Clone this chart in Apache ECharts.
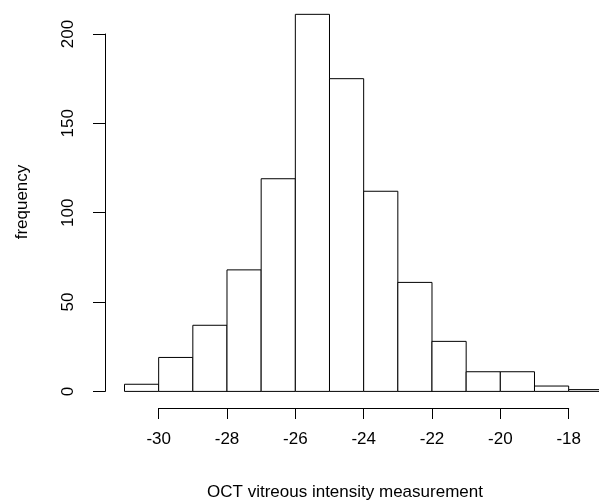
<!DOCTYPE html>
<html>
<head>
<meta charset="utf-8">
<script src="https://cdn.jsdelivr.net/npm/echarts@6/dist/echarts.min.js"></script>
<style>
    html, body { margin: 0; padding: 0; background: #fff; }
    #chart { width: 599px; height: 504px; }
</style>
</head>
<body>
<div id="chart"></div>
<script>
// histogram bins (left edge, width 1) and their counts
var binStarts = [-31, -30, -29, -28, -27, -26, -25, -24, -23, -22, -21, -20, -19, -18];
var binWidth = 1;
var counts = [4, 19, 37, 68, 119, 211, 175, 112, 61, 28, 11, 11, 3, 1];

var xTitle = 'OCT vitreous intensity measurement';
var yTitle = 'frequency';

var font = 'Liberation Sans, Arial, sans-serif';

function histBars(params, api) {
    var topLeft = api.coord([api.value(0), api.value(1)]);
    var bottomRight = api.coord([api.value(2), 0]);
    return {
        type: 'rect',
        shape: {
            x: topLeft[0],
            y: topLeft[1],
            width: bottomRight[0] - topLeft[0],
            height: bottomRight[1] - topLeft[1]
        },
        style: { fill: '#fff', stroke: '#000', lineWidth: 1 }
    };
}

var barData = counts.map(function (c, i) {
    return [binStarts[i], c, binStarts[i] + binWidth];
});

var option = {
    backgroundColor: '#fff',
    animation: false,
    grid: [
        // data area
        { left: 124.5, width: 474.5, top: 34, height: 357.4, containLabel: false, outerBoundsMode: 'none' },
        // x axis (R style, detached below)
        { left: 158.7, width: 410, top: 34, height: 374, containLabel: false, outerBoundsMode: 'none' },
        // y axis (R style, detached left)
        { left: 105, width: 400, top: 34, height: 357.4, containLabel: false, outerBoundsMode: 'none' }
    ],
    xAxis: [
        { gridIndex: 0, type: 'value', min: -31, max: -17.112, show: false },
        {
            gridIndex: 1, type: 'value', min: -30, max: -18, interval: 2,
            axisLine: { show: true, lineStyle: { color: '#000', width: 1 } },
            axisTick: { show: true, length: 11, lineStyle: { color: '#000', width: 1 } },
            axisLabel: { color: '#000', fontSize: 17, fontFamily: font, margin: 23 },
            splitLine: { show: false }
        },
        { gridIndex: 2, type: 'value', min: 0, max: 1, show: false }
    ],
    yAxis: [
        { gridIndex: 0, type: 'value', min: 0, max: 200, show: false },
        { gridIndex: 1, type: 'value', min: 0, max: 1, show: false },
        {
            gridIndex: 2, type: 'value', min: 0, max: 200, interval: 50,
            axisLine: { show: true, lineStyle: { color: '#000', width: 1 } },
            axisTick: { show: true, length: 12, lineStyle: { color: '#000', width: 1 } },
            axisLabel: { color: '#000', fontSize: 17, fontFamily: font, rotate: 90, margin: 28 },
            splitLine: { show: false }
        }
    ],
    graphic: [
        {
            type: 'text', x: 345, y: 492,
            style: { text: xTitle, fill: '#000', font: '17px ' + font, textAlign: 'center', textVerticalAlign: 'middle' }
        },
        {
            type: 'text', x: 22, y: 202, rotation: Math.PI / 2,
            style: { text: yTitle, fill: '#000', font: '17px ' + font, textAlign: 'center', textVerticalAlign: 'middle' }
        }
    ],
    series: [
        {
            type: 'custom',
            xAxisIndex: 0,
            yAxisIndex: 0,
            clip: false,
            renderItem: histBars,
            encode: { x: [0, 2], y: 1 },
            data: barData
        }
    ]
};

var chart = echarts.init(document.getElementById('chart'));
chart.setOption(option);
</script>
</body>
</html>
